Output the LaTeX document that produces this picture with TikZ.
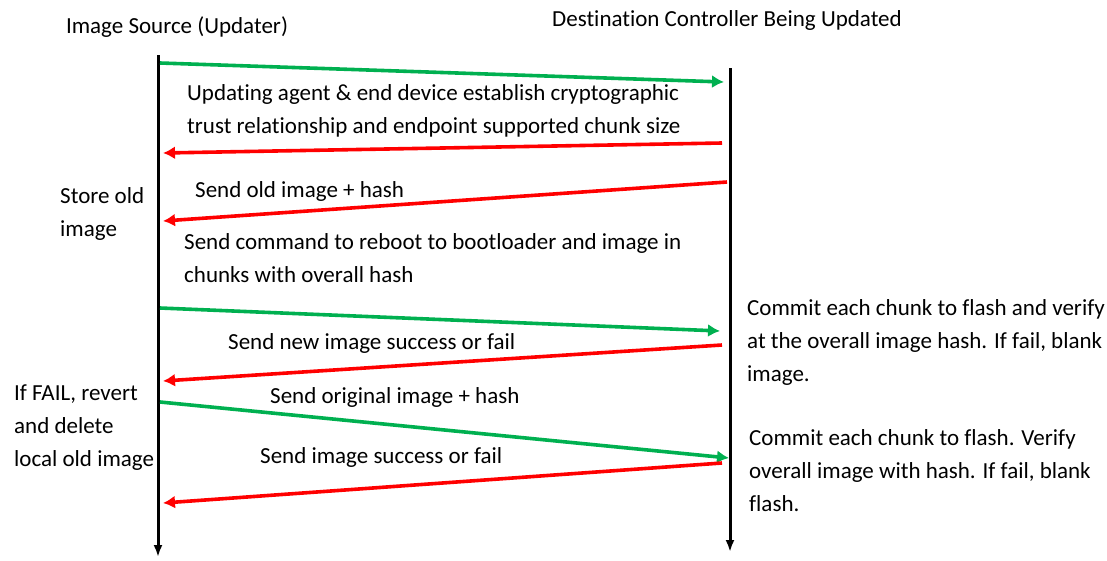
\documentclass[tikz,border=0pt]{standalone}
\usepackage{fontspec}
\setmainfont{Carlito}[Ligatures={CommonOff,ContextualOff,RequiredOff}]
\usepackage{tikz}
\usetikzlibrary{arrows.meta}

\begin{document}
\begin{tikzpicture}[x=1pt,y=-1pt]
            \tikzset{txt/.style = {anchor=west,inner sep=0pt,align=left,font=\fontsize{23}{33}\selectfont}}
            \tikzset{life/.style = {-{Latex[length=12pt,width=9pt]},line width=3pt,black}}
            \tikzset{fwd/.style = {-{Latex[length=12pt,width=13pt]},line width=3.6pt,color={rgb,255:red,0;green,176;blue,80}}}
            \tikzset{back/.style = {-{Latex[length=12pt,width=13pt]},line width=3.6pt,red}}
            \useasboundingbox (0,0) rectangle (1107,560);

            % lifelines
            \coordinate (src top) at (158,55);
            \coordinate (src bot) at (158,557);
            \coordinate (dst top) at (730,68);
            \coordinate (dst bot) at (730,552);
            \draw[life] (src top) to (src bot);
            \draw[life] (dst top) to (dst bot);

            \node[txt,anchor=center] (src) at (177,27) {Image Source (Updater)};
            \node[txt,anchor=center] (dst) at (727,20) {Destination Controller Being Updated};

            % message ends
            \coordinate (s1) at (160,63);  \coordinate (d1) at (724,82);
            \coordinate (d2) at (722,143); \coordinate (s2) at (163,153);
            \coordinate (d3) at (727,182); \coordinate (s3) at (163,221);
            \coordinate (s4) at (160,308); \coordinate (d4) at (720,331);
            \coordinate (d5) at (722,345); \coordinate (s5) at (163,381);
            \coordinate (s6) at (160,402); \coordinate (d6) at (729,458);
            \coordinate (d7) at (722,463); \coordinate (s7) at (163,503);

            \draw[fwd] (s1) to (d1);
            \draw[back] (d2) to (s2);
            \draw[back] (d3) to (s3);
            \draw[fwd] (s4) to (d4);
            \draw[back] (d5) to (s5);
            \draw[fwd] (s6) to (d6);
            \draw[back] (d7) to (s7);

            % labels
            \node[txt] (trust) at (187,111) {Updating agent \& end device establish cryptographic\\trust relationship and endpoint supported chunk size};
            \node[txt] (old) at (195,191) {Send old image + hash};
            \node[txt] (store) at (60,214) {Store old\\image};
            \node[txt] (cmd) at (184,258) {Send command to reboot to bootloader and image in\\chunks with overall hash};
            \node[txt] (commit a) at (747,342) {Commit each chunk to flash and verify\\at the overall image hash. If fail, blank\\image.};
            \node[txt] (new ok) at (228,343) {Send new image success or fail};
            \node[txt] (revert) at (14,428) {If FAIL, revert\\and delete\\local old image};
            \node[txt] (orig) at (270,397) {Send original image + hash};
            \node[txt] (commit b) at (749,471) {Commit each chunk to flash. Verify\\overall image with hash. If fail, blank\\flash.};
            \node[txt] (img ok) at (260,457) {Send image success or fail};
        \end{tikzpicture}
\end{document}
